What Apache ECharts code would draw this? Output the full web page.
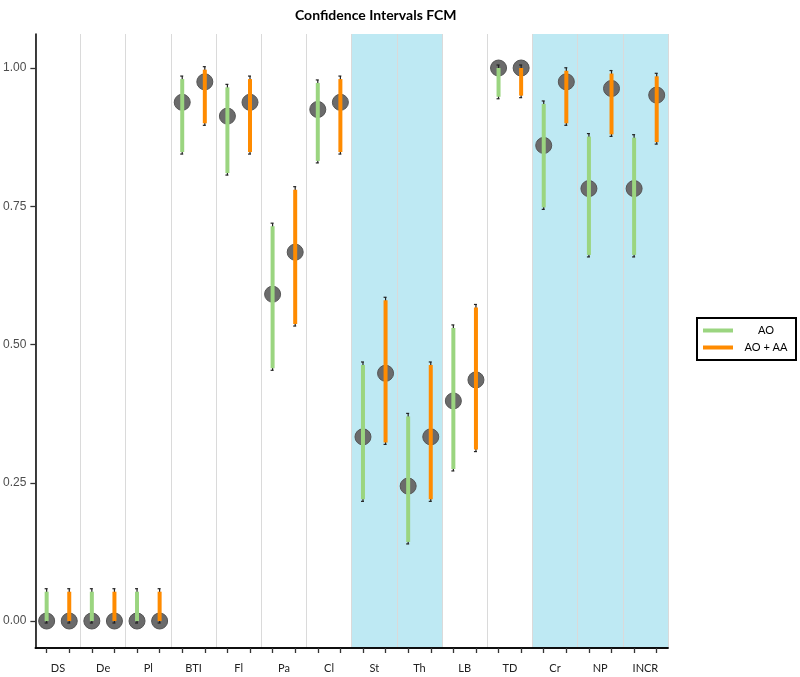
<!DOCTYPE html>
<html>
<head>
<meta charset="utf-8">
<script src="https://cdn.jsdelivr.net/npm/echarts@6/dist/echarts.min.js"></script>
<style>html,body{margin:0;padding:0;background:#fff;}#c{width:800px;height:677px;}</style>
</head>
<body>
<div id="c"></div>
<script>
// ---- data ----
var categories = ['DS','De','Pl','BTI','Fl','Pa','Cl','St','Th','LB','TD','Cr','NP','INCR'];
var aoEst  = [0, 0, 0, 0.938, 0.913, 0.591, 0.925, 0.333, 0.244, 0.398, 1.0, 0.860, 0.782, 0.782];
var aoLow  = [0, 0, 0, 0.848, 0.810, 0.457, 0.832, 0.220, 0.143, 0.275, 0.948, 0.748, 0.662, 0.662];
var aoHigh = [0.053, 0.053, 0.053, 0.980, 0.965, 0.714, 0.973, 0.463, 0.370, 0.530, 1.0, 0.935, 0.876, 0.874];
var aaEst  = [0, 0, 0, 0.975, 0.938, 0.667, 0.938, 0.448, 0.333, 0.436, 1.0, 0.975, 0.963, 0.951];
var aaLow  = [0, 0, 0, 0.900, 0.848, 0.537, 0.848, 0.323, 0.220, 0.310, 0.950, 0.900, 0.880, 0.866];
var aaHigh = [0.053, 0.053, 0.053, 0.997, 0.980, 0.780, 0.980, 0.580, 0.463, 0.567, 1.0, 0.995, 0.990, 0.985];
var shadedSpans = [['St','Th'], ['Cr','INCR']];
var yTickValues = [0, 0.25, 0.5, 0.75, 1.0];
var yTickLabels = ['0.00', '0.25', '0.50', '0.75', '1.00'];
var seriesNames = ['AO', 'AO + AA'];

// ---- styling ----
var GREEN = '#9bd580';
var ORANGE = '#ff8b00';

var dodgeCats = [];
categories.forEach(function (c) { dodgeCats.push(c + '_1', c + '_2'); });

function buildData(est, low, high, offset) {
  return categories.map(function (c, i) { return [2 * i + offset, est[i], low[i], high[i]]; });
}

function errRender(color) {
  return function (params, api) {
    var x = api.value(0);
    var p = api.coord([x, api.value(1)]);
    var lo = api.coord([x, api.value(2)]);
    var hi = api.coord([x, api.value(3)]);
    var capTop = hi[1] - 3, capBot = lo[1] + 2;
    var children = [
      { type: 'circle', shape: { cx: p[0], cy: p[1], r: 8 },
        style: { fill: '#6b6b6b', stroke: '#555', lineWidth: 1 } },
      { type: 'line', shape: { x1: p[0], y1: capTop, x2: p[0], y2: capBot },
        style: { stroke: '#222', lineWidth: 1.2 } },
      { type: 'line', shape: { x1: p[0] - 2, y1: capTop, x2: p[0] + 1, y2: capTop },
        style: { stroke: '#222', lineWidth: 1.2 } },
      { type: 'line', shape: { x1: p[0] - 2, y1: capBot, x2: p[0] + 1, y2: capBot },
        style: { stroke: '#222', lineWidth: 1.2 } }
    ];
    if (lo[1] - hi[1] > 0.5) {
      children.push({ type: 'rect', shape: { x: p[0] - 2, y: hi[1], width: 4, height: lo[1] - hi[1] },
        style: { fill: color } });
    }
    return { type: 'group', children: children };
  };
}

var chart = echarts.init(document.getElementById('c'), null, { renderer: 'canvas' });
chart.setOption({
  animation: false,
  backgroundColor: '#ffffff',
  title: {
    text: 'Confidence Intervals FCM',
    left: 290, top: 3,
    textStyle: { fontFamily: 'Lato', fontWeight: 'bold', fontSize: 14, color: '#000' }
  },
  legend: {
    orient: 'vertical',
    left: 697, top: 318,
    padding: [7, 2, 7, 6],
    borderColor: '#000', borderWidth: 2, borderRadius: 0,
    itemWidth: 30, itemHeight: 4, itemGap: 6,
    data: [
      { name: seriesNames[0], icon: 'rect', itemStyle: { color: GREEN } },
      { name: seriesNames[1], icon: 'rect', itemStyle: { color: ORANGE } }
    ],
    formatter: '{a|{name}}',
    textStyle: {
      rich: { a: { width: 56, align: 'center', fontFamily: 'Lato', fontSize: 11, color: '#000', lineHeight: 14 } }
    }
  },
  grid: { left: 35, right: 132, top: 34, bottom: 29 },
  xAxis: [
    {
      type: 'category', data: categories, position: 'bottom',
      axisLine: { onZero: false, lineStyle: { color: '#000', width: 1.5 } },
      axisTick: { show: false },
      axisLabel: { margin: 15, fontFamily: 'Lato', fontSize: 11, color: '#222' },
      splitLine: { show: true, lineStyle: { color: '#dadada', width: 1 } }
    },
    {
      type: 'category', data: dodgeCats, position: 'bottom', offset: 0,
      axisLine: { show: true, onZero: false, lineStyle: { color: '#000', width: 1.5 } },
      axisTick: { show: true, interval: 0, alignWithLabel: true, length: 5, lineStyle: { color: '#333', width: 1.3 } },
      axisLabel: { show: false },
      splitLine: { show: false }
    }
  ],
  yAxis: {
    type: 'value', min: -0.0488, max: 1.0615,
    axisLine: { show: true, onZero: false, lineStyle: { color: '#000', width: 1.5 } },
    axisTick: { show: true, length: 5, customValues: yTickValues, lineStyle: { color: '#333', width: 1.3 } },
    axisLabel: {
      customValues: yTickValues, margin: 9, fontFamily: 'Liberation Sans', fontSize: 12, color: '#4d4d4d',
      formatter: function (v) {
        for (var i = 0; i < yTickValues.length; i++) if (Math.abs(yTickValues[i] - v) < 1e-6) return yTickLabels[i];
        return '';
      }
    },
    splitLine: { show: false }
  },
  series: [
    {
      name: 'shade', type: 'custom', xAxisIndex: 0, z: -1, silent: true,
      data: shadedSpans.map(function (s) { return [categories.indexOf(s[0]), categories.indexOf(s[1])]; }),
      renderItem: function (params, api) {
        var bw = api.size([1, 0])[0];
        var a = api.coord([api.value(0), 0])[0] - bw / 2;
        var b = api.coord([api.value(1), 0])[0] + bw / 2;
        var cs = params.coordSys;
        return { type: 'rect', shape: { x: a, y: cs.y, width: b - a, height: cs.height },
          style: { fill: '#bee9f3' } };
      }
    },
    {
      name: seriesNames[0], type: 'custom', xAxisIndex: 1, itemStyle: { color: GREEN },
      data: buildData(aoEst, aoLow, aoHigh, 0), renderItem: errRender(GREEN)
    },
    {
      name: seriesNames[1], type: 'custom', xAxisIndex: 1, itemStyle: { color: ORANGE },
      data: buildData(aaEst, aaLow, aaHigh, 1), renderItem: errRender(ORANGE)
    }
  ]
});
</script>
</body>
</html>
